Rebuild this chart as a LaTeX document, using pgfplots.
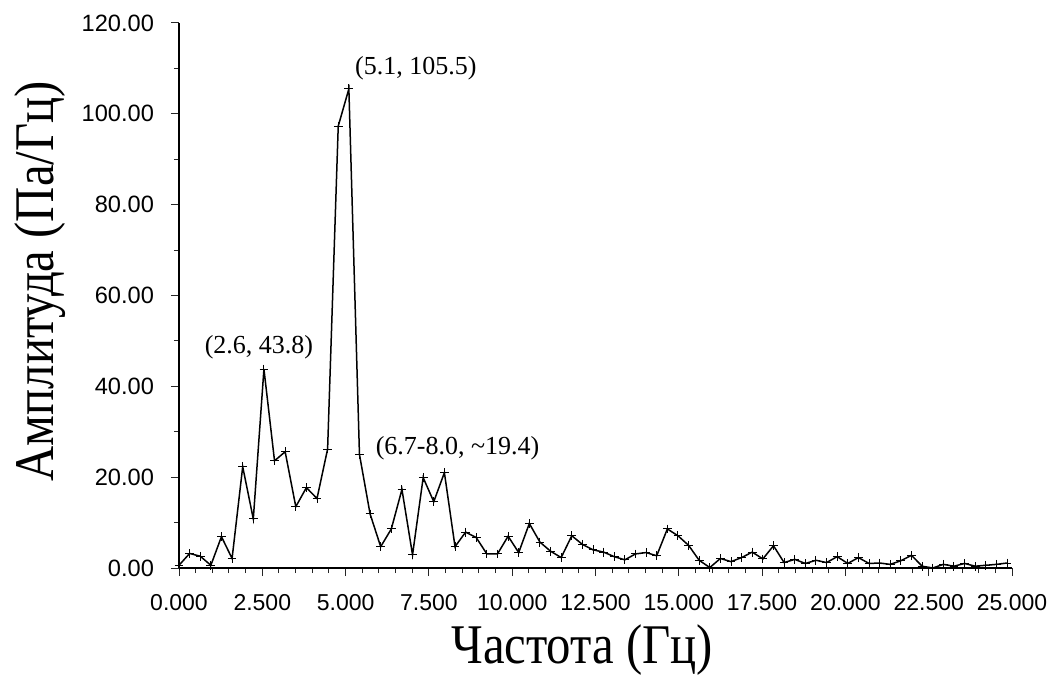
\documentclass[border=0pt]{standalone}
\usepackage{fontspec}
\setmainfont{Liberation Serif}
\newfontfamily\sansf{Liberation Sans}
\usepackage{pgfplots}
\pgfplotsset{compat=1.18}
\pgfplotstableread{
x y
0 0.6
0.319 3.2
0.637 2.6
0.956 0.6
1.274 6.9
1.593 2.1
1.912 22.3
2.230 10.8
2.549 43.8
2.867 23.6
3.186 25.6
3.505 13.5
3.823 17.7
4.142 15.3
4.460 26.2
4.779 97.3
5.098 105.5
5.416 25.0
5.735 11.9
6.053 4.7
6.372 8.6
6.691 17.3
7.009 2.9
7.328 19.9
7.646 14.6
7.965 21.0
8.284 4.7
8.602 7.9
8.921 6.7
9.239 3.1
9.558 3.1
9.877 7.0
10.195 3.4
10.514 9.8
10.832 5.7
11.151 3.7
11.470 2.3
11.788 7.1
12.107 5.2
12.425 4.0
12.744 3.5
13.063 2.5
13.381 1.8
13.700 3.1
14.018 3.4
14.337 2.7
14.656 8.6
14.974 7.1
15.293 5.0
15.611 1.7
15.930 0.1
16.249 2.1
16.567 1.4
16.886 2.3
17.204 3.5
17.523 2.0
17.842 4.9
18.160 1.2
18.479 1.9
18.797 1.0
19.116 1.7
19.435 1.2
19.753 2.5
20.072 1.0
20.390 2.3
20.709 1.0
21.028 1.1
21.346 0.8
21.665 1.6
21.983 2.8
22.302 0.4
22.621 0.0
22.939 0.8
23.258 0.4
23.576 1.0
23.895 0.4
24.214 0.6
24.532 0.8
24.851 1.1
}\spectrum
\begin{document}
\begin{tikzpicture}
\begin{axis}[
  scale only axis, width=416.5pt, height=272.5pt,
  xmin=0, xmax=25, ymin=0, ymax=120,
  clip=false,
  axis x line*=bottom, axis y line*=left,
  axis line style={line width=0.6pt, black},
  xtick={0,2.5,5,7.5,10,12.5,15,17.5,20,22.5,25},
  ytick={0,20,40,60,80,100,120},
  minor x tick num=4, minor y tick num=1,
  tick align=outside,
  major tick length=4pt, minor tick length=2.5pt,
  every tick/.style={line width=0.5pt, black!85},
  /pgf/number format/assume math mode=true,
  x tick label style={font=\sansf\fontsize{11.5}{13}\selectfont, /pgf/number format/fixed, /pgf/number format/fixed zerofill, /pgf/number format/precision=3, yshift=-5.5pt},
  y tick label style={font=\sansf\fontsize{11.8}{13}\selectfont, /pgf/number format/fixed, /pgf/number format/fixed zerofill, /pgf/number format/precision=2, xshift=-5pt},
  xlabel={\scalebox{0.87}[1]{Частота (Гц)}},
  ylabel={\scalebox{0.87}[1]{Амплитуда (Па/Гц)}},
  xlabel style={font=\fontsize{28}{32}\selectfont, at={(axis description cs:0.484,-0.1505)}, anchor=center},
  ylabel style={font=\fontsize{28}{32}\selectfont, at={(axis description cs:-0.1669,0.526)}, anchor=center},
]
\addplot[black, line width=0.75pt, mark=+, mark size=2.2pt, mark options={line width=0.5pt}] table[x=x,y=y] {\spectrum};
\node[font=\fontsize{13}{15}\selectfont] at (axis cs:7.11,110.1) {(5.1, 105.5)};
\node[font=\fontsize{13}{15}\selectfont] at (axis cs:2.40,48.7) {(2.6, 43.8)};
\node[font=\fontsize{13}{15}\selectfont] at (axis cs:8.36,26.4) {(6.7-8.0, \textasciitilde19.4)};
\end{axis}
\pgfresetboundingbox
\path (-89.5pt,-53.5pt) rectangle (436.5pt,284pt);
\end{tikzpicture}
\end{document}
